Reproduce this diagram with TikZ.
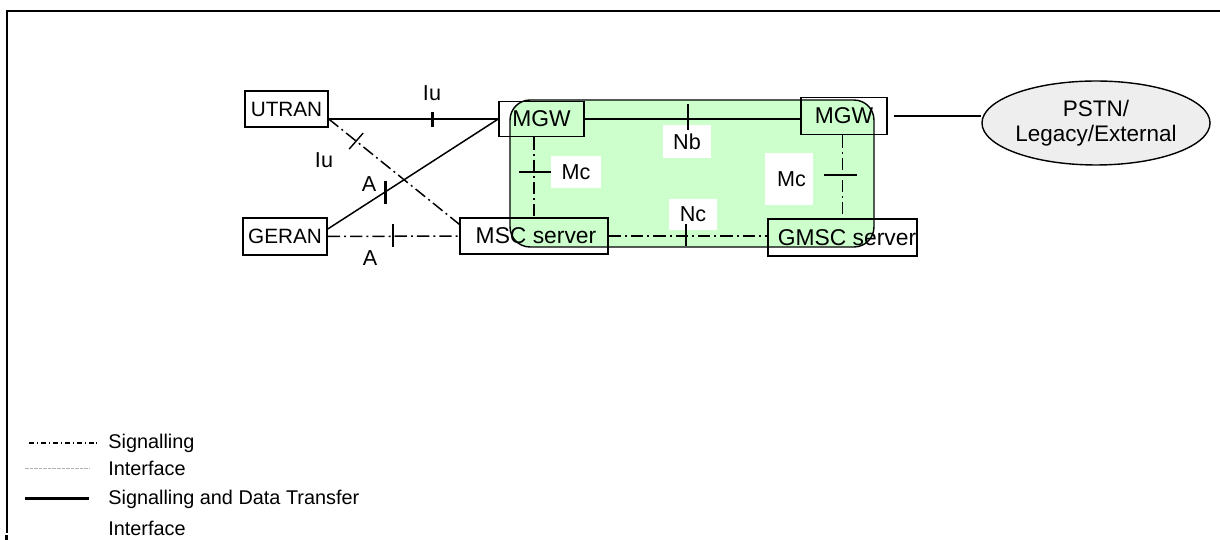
\documentclass[tikz,border=0pt]{standalone}
\usepackage{fontspec}
\setmainfont{Liberation Sans}
\usetikzlibrary{positioning, shapes.geometric, calc}
\definecolor{corefill}{HTML}{CCFFCC}
\definecolor{pstnfill}{HTML}{EEEEEE}

\begin{document}
\begin{tikzpicture}[
            x=0.02cm, y=-0.02cm,
            box/.style={rectangle, draw, line width=0.85pt, inner sep=0pt,
                        font=\fontsize{13}{14}\selectfont},
            ran/.style={box, font=\fontsize{11.8}{13}\selectfont},
            core/.style={rectangle, draw, line width=0.8pt, fill=corefill,
                        rounded corners=0.4cm, minimum width=7.28cm, minimum height=2.94cm},
            ext/.style={ellipse, draw, line width=0.8pt, fill=pstnfill, inner sep=0pt,
                        minimum width=3.96cm, minimum height=1.68cm, align=center,
                        font=\fontsize{12.8}{14.2}\selectfont},
            lbl/.style={inner sep=0pt, font=\fontsize{12.3}{14}\selectfont},
            tag/.style={lbl, fill=white},
            data/.style={line width=0.85pt},
            sig/.style={line width=0.85pt, dash pattern=on 7pt off 2.3pt on 1.1pt off 2.3pt},
            tick/.style={line width=0.8pt},
            thicktick/.style={line width=1.6pt},
            legtxt/.style={inner sep=0pt, font=\fontsize{11.3}{13}\selectfont},
        ]
            \useasboundingbox (0,0) rectangle (1220,540);

            % Outer frame
            \draw[line width=1.1pt] (1220,11) -| (7,533);
            \fill (5,535) rectangle (8,540);

            % Core network area
            \node[core] (core) at (692,173.5) {};

            % Interface tags on the core area
            \node[tag, minimum width=0.96cm, minimum height=0.66cm] (nb)  at (687,141.5) {Nb};
            \node[tag, minimum width=1.0cm,  minimum height=0.64cm] (mcl) at (576,172)   {Mc};
            \node[tag, minimum width=0.96cm, minimum height=1.04cm] (mcr) at (789,179)   {\hspace{0.1cm}Mc};
            \node[tag, minimum width=0.96cm, minimum height=0.62cm] (nc)  at (693,214.5) {Nc\hspace{0.12cm}};

            % Network elements
            \node[ran, minimum width=1.66cm, minimum height=0.72cm] (utran) at (286.5,109)   {UTRAN};
            \node[ran, minimum width=1.68cm, minimum height=0.74cm] (geran) at (285,236.5)   {GERAN\hspace{0.2cm}};
            \node[box, minimum width=1.70cm, minimum height=0.70cm] (mgwl)  at (541.5,119)   {MGW};
            \node[box, minimum width=1.72cm, minimum height=0.74cm] (mgwr)  at (844,116)     {MGW};
            \node[box, minimum width=2.96cm, minimum height=0.72cm] (msc)   at (534,236)     {\hspace{0.08cm}MSC server};
            \node[box, minimum width=2.98cm, minimum height=0.74cm] (gmsc)  at (842.5,237.5) {\hspace{0.18cm}GMSC server};
            \node[ext] (pstn) at (1096,123) {PSTN/\\Legacy/External};

            \coordinate (uport) at (utran.east |- mgwl.west);

            % Signalling and data transfer
            \draw[data] (uport) -- (mgwl.west);
            \draw[data] ([yshift=0.15cm]geran.east) -- (mgwl.west);
            \draw[data] (mgwl.east) -- (mgwl.east -| mgwr.west);
            \draw[data] ([xshift=0.12cm]mgwr.east) -- (mgwr.east -| pstn.west);

            % Signalling only
            \draw[sig] (uport) -- ([yshift=-0.14cm]msc.north west);
            \draw[sig] (geran.east) -- (msc.west);
            \draw[sig] (msc.north |- mgwl.south) -- (msc.north);
            \draw[sig] (gmsc.north |- mgwr.south) -- (gmsc.north);
            \draw[sig] (msc.east) -- (msc.east -| gmsc.west);

            % Interface marks
            \draw[thicktick] ($(uport)!0.61!(mgwl.west)$) +(0,-7) -- +(0,8);
            \draw[tick] ($(uport)!0.21!([yshift=-0.14cm]msc.north west)$) +(-7,8) -- +(7,-8);
            \draw[thicktick] ($([yshift=0.15cm]geran.east)!0.34!(mgwl.west)$) +(0,-11) -- +(0,12);
            \draw[thicktick] ($(geran.east)!0.496!(msc.west)$) +(0,-12) -- +(0,11);
            \draw[tick] ($(mgwl.east)!0.479!(mgwl.east -| mgwr.west)$) +(0,-15) -- +(0,11);
            \draw[tick] ($(msc.north |- mgwl.south)!0.436!(msc.north)$) +(-15,0) -- +(17,0);
            \draw[tick] ($(gmsc.north |- mgwr.south)!0.479!(gmsc.north)$) +(-19,0) -- +(14,0);
            \draw[tick] ($(msc.east)!0.4875!(msc.east -| gmsc.west)$) +(0,-12) -- +(0,10);

            % Interface names
            \node[lbl] (iutop) at (432,93)  {Iu};
            \node[lbl] (iudia) at (324,160) {Iu};
            \node[lbl] (amid)  at (369,184) {A};
            \node[lbl] (alow)  at (370,258) {A};

            % Legend
            \node[legtxt, anchor=west] (lgsig) at (108,443) {Signalling};
            \node[legtxt, below=0.5cm of lgsig.west, anchor=west] (lgif) {Interface};
            \node[legtxt, below=0.62cm of lgif.west, anchor=west] (lgdata) {Signalling and Data Transfer};
            \node[legtxt, below=0.58cm of lgdata.west, anchor=west] (lgif2) {Interface};
            \draw[line width=0.75pt, dash pattern=on 2.8pt off 1.6pt on 0.8pt off 1.6pt]
                ([xshift=-1.58cm]lgsig.west) -- ([xshift=-0.22cm]lgsig.west);
            \draw[gray!60, line width=0.4pt, dash pattern=on 2pt off 0.6pt]
                ([xshift=-1.66cm]lgif.west) -- ([xshift=-0.36cm]lgif.west);
            \draw[line width=1.7pt] ([xshift=-1.66cm]lgdata.west) -- ([xshift=-0.38cm]lgdata.west);
        \end{tikzpicture}
\end{document}
